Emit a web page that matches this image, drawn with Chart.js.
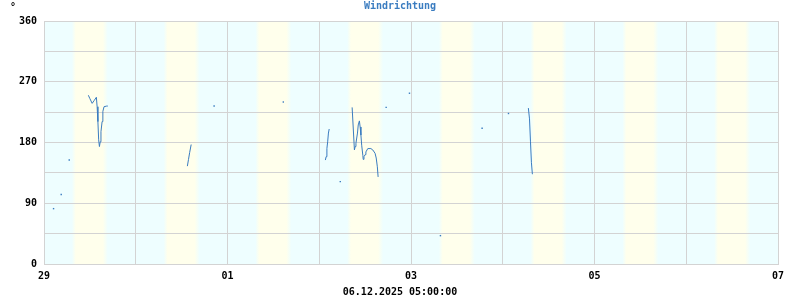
<!DOCTYPE html>
<html>
<head>
<meta charset="utf-8">
<title>Windrichtung</title>
<script src="https://cdn.jsdelivr.net/npm/chart.js@4.4.1/dist/chart.umd.min.js"></script>
<style>
    html, body { margin: 0; padding: 0; background: #ffffff; }
    #wrap { width: 800px; height: 300px; }
</style>
</head>
<body>
<div id="wrap"><canvas id="windChart" width="800" height="300"></canvas></div>
<script>
// Data (x = hours since 29.11. 00:00, null = gap)
const hours = [
    2.5, 3.5, 4.5, 5.5, 6.6, 9.0,
    11.6, 12.0, 12.6, 13.1, 13.7, 13.9, 14.1, 14.3, 14.5, 14.7, 14.9, 15.2, 15.4, 15.7, 16.4, 16.7, 20.0,
    37.5, 37.8, 38.1, 38.5, 41.0,
    44.5, 50.0,
    62.6, 68.0,
    73.6, 73.8, 74.0, 74.2, 74.4, 74.6, 76.0,
    77.5, 79.0,
    80.6, 81.2, 81.4, 81.6, 82.0, 82.2, 82.5, 82.7, 82.9, 83.1, 83.4, 83.5, 83.7, 84.0, 84.2, 84.7, 85.5, 86.0, 86.6, 86.9, 87.2, 87.4, 88.5,
    89.5, 92.0,
    95.6, 100.0,
    103.7, 110.0,
    114.6, 118.0,
    121.5, 124.0,
    126.7, 127.0, 127.25, 127.5, 127.75
];
const direction = [
    82, null, 103, null, 154, null,
    250, 245, 238, 242, 247, 233, 211, 184, 174, 181, 196, 211, 226, 233, 234, 234, null,
    145, 155, 165, 177, null,
    234, null,
    240, null,
    154, 159, 171, 181, 194, 200, null,
    122, null,
    232, 169, 174, 179, 194, 206, 212, 203, 191, 176, 161, 155, 159, 162, 166, 171, 171, 169, 164, 157, 144, 129, null,
    232, null,
    253, null,
    42, null,
    201, null,
    223, null,
    231, 215, 182, 150, 133
];

// Axis labels
const dayLabels = ['29', '30', '01', '02', '03', '04', '05', '06', '07'];
const yTicks = [0, 90, 180, 270, 360];
const chartTitle = 'Windrichtung';
const unitLabel = '°';
const stampLabel = '06.12.2025 05:00:00';

// Daylight (hours of day): dawn start, full day, dusk start, night
const dawnStart = 7.3;
const dayStart = 8.3;
const duskStart = 15.4;
const nightStart = 16.7;

const NIGHT = '#eefeff';
const DAY = '#ffffec';
const LINE = '#3a7cc0';
const GRID = '#d3d3d3';
const FONT = { family: 'DejaVu Sans Mono', size: 10, weight: 'bold' };

const points = hours.map((h, i) => ({ x: h, y: direction[i] }));

// lonely points get a dot, others only the line
function isLonely(ctx) {
    const d = ctx.dataset.data;
    const i = ctx.dataIndex;
    if (d[i].y === null) return false;
    const prev = i > 0 ? d[i - 1].y : null;
    const next = i < d.length - 1 ? d[i + 1].y : null;
    return prev === null && next === null;
}

const dayBands = {
    id: 'dayBands',
    beforeDraw(chart) {
        const { ctx, chartArea: a, scales: { x } } = chart;
        ctx.save();
        ctx.fillStyle = NIGHT;
        ctx.fillRect(a.left, a.top, a.right - a.left, a.bottom - a.top);
        for (let d = 0; d < dayLabels.length - 1; d++) {
            const x0 = x.getPixelForValue(d * 24 + dawnStart);
            const x1 = x.getPixelForValue(d * 24 + nightStart);
            const span = nightStart - dawnStart;
            const g = ctx.createLinearGradient(x0, 0, x1, 0);
            g.addColorStop(0, NIGHT);
            g.addColorStop((dayStart - dawnStart) / span, DAY);
            g.addColorStop((duskStart - dawnStart) / span, DAY);
            g.addColorStop(1, NIGHT);
            ctx.fillStyle = g;
            ctx.fillRect(x0, a.top, x1 - x0, a.bottom - a.top);
        }
        ctx.restore();
    },
    afterDraw(chart) {
        const { ctx } = chart;
        ctx.save();
        ctx.font = 'bold 10px "DejaVu Sans Mono"';
        ctx.textBaseline = 'middle';
        ctx.fillStyle = '#000000';
        ctx.textAlign = 'left';
        ctx.fillText(unitLabel, 10, 7);
        ctx.textAlign = 'center';
        ctx.fillText(stampLabel, chart.width / 2, 292);
        ctx.fillStyle = LINE;
        ctx.fillText(chartTitle, chart.width / 2, 6);
        ctx.restore();
    }
};

const windCtx = document.getElementById('windChart').getContext('2d');
const windChart = new Chart(windCtx, {
    type: 'line',
    data: {
        datasets: [{
            label: chartTitle,
            data: points,
            borderColor: LINE,
            backgroundColor: LINE,
            borderWidth: 1,
            tension: 0,
            spanGaps: false,
            pointStyle: 'rect',
            pointRadius: ctx => isLonely(ctx) ? 1 : 0,
            pointBorderWidth: 0,
            pointHoverRadius: 0
        }]
    },
    options: {
        responsive: false,
        animation: false,
        devicePixelRatio: 1,
        layout: { padding: { top: 21, right: 22, bottom: 0, left: 0 } },
        plugins: {
            legend: { display: false },
            title: { display: false },
            tooltip: { enabled: false }
        },
        scales: {
            x: {
                type: 'linear',
                min: 0,
                max: (dayLabels.length - 1) * 24,
                afterFit: s => { s.height = 36; },
                grid: { color: GRID, drawTicks: false },
                border: { color: GRID },
                ticks: {
                    stepSize: 24,
                    autoSkip: false,
                    maxRotation: 0,
                    padding: 6,
                    color: '#000000',
                    font: FONT,
                    callback: v => (v % 48 === 0 ? dayLabels[v / 24] : '')
                }
            },
            y: {
                min: 0,
                max: 360,
                afterFit: s => { s.width = 44; },
                grid: { color: GRID, drawTicks: false },
                border: { color: GRID },
                ticks: {
                    stepSize: 45,
                    padding: 7,
                    color: '#000000',
                    font: FONT,
                    callback: v => (yTicks.includes(v) ? String(v) : '')
                }
            }
        }
    },
    plugins: [dayBands]
});
</script>
</body>
</html>
